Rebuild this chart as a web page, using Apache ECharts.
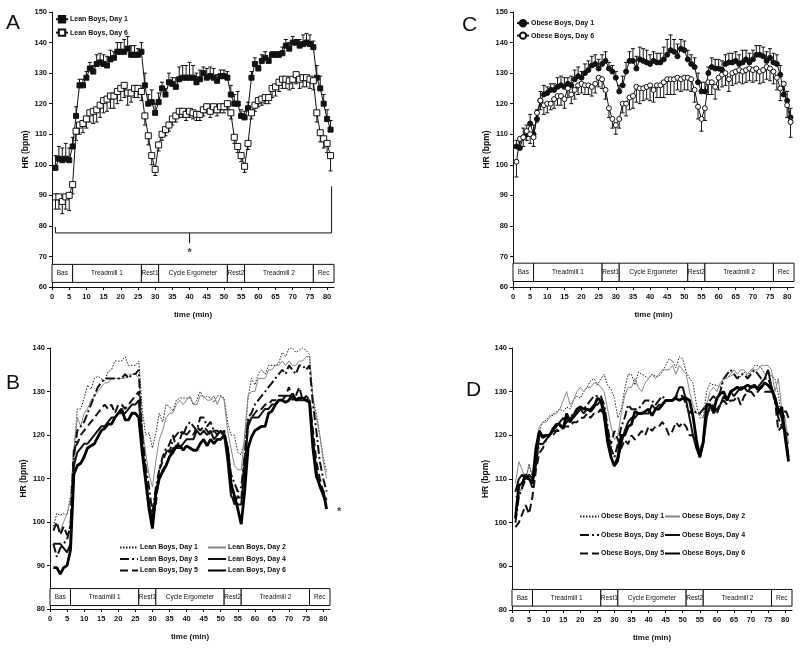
<!DOCTYPE html>
<html><head><meta charset="utf-8">
<script src="https://cdn.jsdelivr.net/npm/echarts@6/dist/echarts.min.js"></script>
<style>html,body{margin:0;padding:0;background:#fff}#c{width:800px;height:648px}</style>
</head><body><div id="c"></div>
<script>
// time (min)
const minutes = Array.from({length: 81}, (_, i) => i + 1);

// Panel A: lean boys, mean ± SE
const leanDay1 = [99,102,101.5,102,101.5,106,116,126,126,128.5,
131.5,130.5,133,133.5,133,132.5,134.5,135,137,137,
137,138,136,136,136,137,126,120,120.5,117,
120.5,125,123,127,126.5,125.5,128,128.5,128.5,128.5,
128.5,127,128,130,128.5,129,128.5,127.5,129,129,
128.5,123,120,120,116,115.5,118.5,128.5,133,131.5,
134,135,134,136,136,136,136.5,139,138,140,
140,139,139.5,140,139.5,138.5,128.5,125,120,115,111.5];
const leanDay6 = [89.5,89.5,88,89.5,90,93.5,111,113,113.5,115,
117,117.5,118,119.5,121,121.5,122.5,122.5,124,125,
126,123.5,123.5,125,125,124,116,109.5,103,98.5,
106.5,110,111.5,113,115,116,117.5,117.5,116.5,117.5,
117,116.5,116.5,118,119,117.5,119,118,119,119,
120,117,109,106,103,99.5,107,117,119.5,121,
121.5,122,122,125,125.5,127,128,128,127.5,128,
129.5,128,128.5,128.5,128,127.5,117,110.5,108.5,107,103];
const leanDay1Err = [4,4,4,5,4,3,3,2,2,2, 2,2,3,3,3,3,3,2,3,3, 4,4,3,3,2,3,4,3,4,3, 3,2,2,3,2,3,4,4,4,5,
4,3,3,2,3,3,3,2,2,2, 2,3,3,4,2,2,2,2,2,1, 2,2,1,1,1,1,2,2,2,2, 1,2,3,3,3,2,4,4,3,3,3];
const leanDay6Err = [4,4,4,4,5,3,3,3,3,3, 3,4,4,4,4,4,4,4,4,4, 4,4,3,3,3,3,3,3,3,2, 2,2,2,2,2,2,2,2,2,2,
2,2,2,2,2,2,2,2,2,2, 2,2,2,2,2,2,2,2,2,2, 2,2,2,3,3,3,3,3,3,3, 3,3,3,3,3,3,3,3,3,3,5];

// Panel C: obese boys, mean ± SE
const obeseDay1 = [106,105.5,109,110,113.5,110,115,121,123,123.5,
124.5,124.5,125.5,126,125.5,126.5,126,128,129,128.5,
130,131,132.5,133,131.5,133,134,131.5,130.5,128.5,
124,126,130.5,134,134,131.5,134.5,134,133.5,133,
134,133.5,133.5,134.5,136,137.5,137,135.5,138,137.5,
134.5,133,132,127,124,124,130,132,131.5,131.5,
131,133,133.5,133.5,134,133,133.5,134.5,133.5,134.5,
136,136,135.5,134,135,133.5,133,129.5,123,121,115.5];
const obeseDay6 = [101,108.5,109,111,110,109,117,121,119.5,120,
120,121.5,122.5,122.5,121.5,125,123,124.5,126,126.5,
126,126,125.5,126.5,128.5,128,124.5,118.5,115,113,
115,120,120,122,122.5,125.5,125,125,125.5,126,
124.5,126,126,127,128,128,128,128.5,128,128.5,
128.5,128,124.5,119,115,118.5,127,127,125.5,128.5,
129.5,130,128,130,130.5,131,130.5,131,131.5,131,
131.5,130.5,131,132,131.5,130.5,128.5,125,126.5,119.5,114];
const obeseDay1Err = [2,2,3,3,3,3,3,3,3,2, 2,2,3,3,3,2,3,3,3,2, 3,3,3,3,3,3,3,2,2,2, 2,3,3,3,4,4,4,4,4,3,
3,3,3,4,5,5,4,4,3,3, 3,3,3,3,3,3,2,3,3,3, 3,3,3,3,3,3,4,3,3,3, 3,3,3,3,3,3,3,3,3,3,3];
const obeseDay6Err = [5,3,3,3,3,3,3,3,3,3, 2,3,3,3,3,3,3,3,3,3, 3,3,3,3,3,3,3,3,3,3, 3,3,4,4,4,5,5,4,4,5,
4,4,4,5,5,5,5,4,4,4, 4,4,4,4,4,4,4,4,4,4, 4,4,4,4,4,4,4,4,4,4, 4,4,4,4,4,4,4,4,4,4,5];

// Panel B: lean boys, days 2-5 (days 1 and 6 = panel A means)
const leanDay2 = [100,99,98,100,102,105,117,124,122,125,
126,128,129,130,131,132,132,133,133,133,
133,133,134,134,134,133,122,116,111,108,
114,119,121,124,125,125,127,128,127,128,
129,127,127,129,129,128,128,129,127,129,
128,121,117,113,112,112,120,129,130,130,
133,133,133,135,135,136,136,137,136,137,
136,136,137,137,138,138,128,124,120,114,110];
const leanDay3 = [95,92,94,95,96,99,115,121,122,123,
125,127,129,131,132,133,133,133,133,133,
133,134,133,134,134,135,120,113,108,102,
108,112,115,117,116,119,120,121,120,122,
123,122,121,124,124,122,123,121,120,121,
121,117,111,109,107,108,115,124,125,127,
128,129,130,131,132,133,134,135,134,136,
135,134,136,136,135,136,127,121,114,110,107];
const leanDay4 = [95,95,95,94,93,95,113,116,117,118,
118,119,120,121,122,122,123,124,124,125,
125,125,126,127,127,128,118,110,104,100,
106,110,112,113,115,117,117,117,118,119,
119,119,121,120,121,120,121,119,120,121,
120,114,106,105,104,104,112,122,124,124,
124,125,126,126,127,127,128,128,129,129,
129,128,128,128,128,128,119,112,108,106,104];
const leanDay5 = [98,100,97,99,97,99,117,118,120,121,
122,123,124,125,126,127,126,127,125,127,
127,126,127,128,129,130,120,111,104,101,
104,112,114,116,118,120,117,119,121,120,
121,120,122,121,122,121,120,121,121,120,
121,116,107,104,106,105,115,123,124,125,
126,126,127,127,128,128,129,129,129,131,
128,129,131,128,129,128,121,114,110,107,105];

// Panel D: obese boys, days 2-5 (days 1 and 6 = panel C means)
const obeseDay2 = [109,114,112,110,113,111,116,122,123,123,
124,125,125,126,128,130,127,128,130,131,
130,131,131,132,132,131,130,126,122,119,
120,125,129,131,131,133,131,130,132,133,
134,133,134,135,135,135,136,134,136,135,
134,130,127,125,125,124,127,130,131,130,
132,133,133,134,135,134,135,135,134,135,
135,135,136,136,136,135,130,133,126,124,118];
const obeseDay3 = [100,106,108,110,110,108,114,118,118,119,
120,121,121,122,122,123,124,125,125,126,
126,127,128,129,129,129,127,122,117,115,
118,122,124,127,126,126,126,127,128,128,
128,127,128,129,128,128,128,129,129,129,
127,125,126,125,125,126,127,128,129,128,
130,133,134,135,134,133,134,134,133,134,
135,134,133,133,133,131,128,124,122,126,124];
const obeseDay4 = [107,110,111,110,111,110,113,120,120,120,
120,121,122,123,124,123,124,124,125,126,
125,126,126,127,127,128,126,121,115,113,
114,118,121,123,124,124,125,125,125,125,
127,126,127,127,128,128,128,129,131,131,
128,124,120,117,115,118,124,127,125,126,
127,129,128,130,129,130,131,131,130,131,
131,131,132,133,135,131,129,126,124,121,115];
const obeseDay5 = [99,100,102,104,102,106,112,116,117,119,
120,120,121,121,122,122,122,123,123,124,
124,125,124,125,125,126,124,120,118,121,
119,117,119,118,120,119,120,121,120,122,
121,122,122,123,122,120,121,123,122,123,
122,120,120,118,116,119,125,126,127,125,
127,128,127,128,128,129,127,129,130,130,
129,130,131,130,130,130,128,121,122,121,120];

// protocol phases
const phaseNames = ['Bas','Treadmill 1','Rest1','Cycle Ergometer','Rest2','Treadmill 2','Rec'];
const phaseStart = [0,6,26,31,51,56,76];
const phaseEnd = [6,26,31,51,56,76,82];

// tick settings
const xTicks = {min: 0, max: 82, interval: 5};
const yTicksTop = {min: 60, max: 150, interval: 10};
const yTicksBottom = {min: 80, max: 140, interval: 10};

const FONT = '"Liberation Sans",Arial,sans-serif';
const INK = '#111';

function pairs(vals){ return minutes.map((t,i)=>[t, vals[i]]); }
function triples(vals, errs){ return minutes.map((t,i)=>[t, vals[i], errs[i]]); }

function errRender(dir){
  return function(params, api){
    const x = api.value(0), y = api.value(1), e = api.value(2);
    const p0 = api.coord([x, y]);
    const p1 = api.coord([x, y + dir*e]);
    return {type:'group', children:[
      {type:'line', shape:{x1:p0[0], y1:p0[1], x2:p1[0], y2:p1[1]}, style:{stroke:INK, lineWidth:1}},
      {type:'line', shape:{x1:p1[0]-2, y1:p1[1], x2:p1[0]+2, y2:p1[1]}, style:{stroke:INK, lineWidth:1}}
    ]};
  };
}

function phaseArea(y0, y1){
  return {
    silent: true,
    itemStyle: {color:'#fff', borderColor: INK, borderWidth: 1},
    label: {show:true, position:'inside', color: INK, fontSize: 6.5, fontFamily: FONT, formatter: p => p.name},
    data: phaseNames.map((n,i)=>[{name:n, xAxis: phaseStart[i], yAxis: y0},{xAxis: phaseEnd[i], yAxis: y1}])
  };
}

const grids = [
  {left: 52, top: 12, width: 282, height: 275},
  {left: 513, top: 12, width: 281, height: 275},
  {left: 50, top: 348, width: 280, height: 261},
  {left: 512, top: 348, width: 280, height: 262}
];

const smallText = {color: INK, fontSize: 7.5, fontWeight:'bold', fontFamily: FONT};

function xAxisFor(gi){
  return {gridIndex: gi, type:'value', min: xTicks.min, max: xTicks.max, interval: xTicks.interval,
    name:'time (min)', nameLocation:'middle', nameGap: 24,
    nameTextStyle: Object.assign({}, smallText, {fontSize: 8}),
    axisLine:{show:true, onZero:false, lineStyle:{color: INK, width: 1}},
    axisTick:{show:true, length: 3, lineStyle:{color: INK}},
    axisLabel:Object.assign({margin: 6, showMaxLabel: false}, smallText),
    splitLine:{show:false}};
}
function yAxisFor(gi, t){
  return {gridIndex: gi, type:'value', min: t.min, max: t.max, interval: t.interval,
    name:'HR (bpm)', nameLocation:'middle', nameGap: 11,
    nameTextStyle: Object.assign({}, smallText, {fontSize: 8.5}),
    axisLine:{show:true, onZero:false, lineStyle:{color: INK, width: 1}},
    axisTick:{show:true, length: 3, lineStyle:{color: INK}},
    axisLabel:Object.assign({margin: 5}, smallText),
    splitLine:{show:false}};
}

function meanSeries(name, gi, vals, symbol, filled, size, extra){
  return Object.assign({
    name, type:'line', xAxisIndex: gi, yAxisIndex: gi, data: pairs(vals),
    symbol, symbolSize: size, showSymbol: true, z: 3,
    lineStyle:{color: INK, width: 1},
    itemStyle: filled ? {color: INK, borderColor: INK, borderWidth: 1} : {color:'#fff', borderColor: INK, borderWidth: 1}
  }, extra || {});
}
function errSeries(gi, vals, errs, dir){
  return {type:'custom', xAxisIndex: gi, yAxisIndex: gi, z: 2, silent: true,
    renderItem: errRender(dir), data: triples(vals, errs)};
}

const dayStyles = [
  {type:[1.5,1.5], width: 1, color:'#222'},
  {type:'solid', width: 1, color:'#888'},
  {type:[9,3,2,3], width: 2, color: INK},
  {type:'solid', width: 2, color: INK},
  {type:[8,4], width: 2, color: INK},
  {type:'solid', width: 2.8, color:'#000'}
];
function daySeries(name, gi, vals, k){
  return {name, type:'line', xAxisIndex: gi, yAxisIndex: gi, data: pairs(vals), symbol:'none', z: 3 + (k===5?1:0),
    lineStyle: dayStyles[k], itemStyle:{color: dayStyles[k].color}};
}

const leanDays = [leanDay1, leanDay2, leanDay3, leanDay4, leanDay5, leanDay6];
const obeseDays = [obeseDay1, obeseDay2, obeseDay3, obeseDay4, obeseDay5, obeseDay6];

const series = [
  errSeries(0, leanDay1, leanDay1Err, 1),
  errSeries(0, leanDay6, leanDay6Err, -1),
  meanSeries('A|Lean Boys, Day 1', 0, leanDay1, 'rect', true, 5, {markArea: phaseArea(61.5, 67.4)}),
  meanSeries('A|Lean Boys, Day 6', 0, leanDay6, 'rect', false, 6),
  {type:'line', xAxisIndex:0, yAxisIndex:0, symbol:'none', silent:true, lineStyle:{color:INK, width:1},
   data:[[1,79.6],[1,77.7],[81.3,77.7],[81.3,93]]},
  {type:'line', xAxisIndex:0, yAxisIndex:0, symbol:'none', silent:true, lineStyle:{color:INK, width:1},
   data:[[40,77.7],[40,74.3]]},
  {type:'scatter', xAxisIndex:0, yAxisIndex:0, symbolSize:0, silent:true,
   label:{show:true, position:'inside', formatter:'*', fontSize:11, fontWeight:'bold', color:INK}, data:[[40,71.3]]},

  errSeries(1, obeseDay1, obeseDay1Err, 1),
  errSeries(1, obeseDay6, obeseDay6Err, -1),
  meanSeries('C|Obese Boys, Day 1', 1, obeseDay1, 'circle', true, 5, {markArea: phaseArea(61.8, 67.8)}),
  meanSeries('C|Obese Boys, Day 6', 1, obeseDay6, 'circle', false, 5),
];
leanDays.forEach((d,k)=>{
  const s = daySeries('B|Lean Boys, Day ' + (k+1), 2, d, k);
  if (k===0) s.markArea = phaseArea(80.8, 84.7);
  series.push(s);
});
series.push({type:'scatter', xAxisIndex:2, yAxisIndex:2, symbolSize:0, silent:true, clip:false,
   label:{show:true, position:'inside', formatter:'*', fontSize:11, fontWeight:'bold', color:INK}, data:[[84.7,102.3]]});
obeseDays.forEach((d,k)=>{
  const s = daySeries('D|Obese Boys, Day ' + (k+1), 3, d, k);
  if (k===0) s.markArea = phaseArea(80.9, 84.7);
  series.push(s);
});

const legendBase = {orient:'vertical', padding:0, itemHeight: 8, selectedMode:false,
  textStyle:{color: INK, fontSize: 7, fontWeight:'bold', fontFamily: FONT, padding:[0,0,0,-3]},
  formatter: n => n.split('|')[1]};
const lineOnly = {itemStyle:{color:'rgba(0,0,0,0)', borderColor:'rgba(0,0,0,0)', borderWidth:0}};

const option = {
  animation: false,
  backgroundColor:'#fff',
  title: [
    {text:'A', left: 6, top: 13, padding:0, textStyle:{fontSize: 21, fontWeight:'normal', color: INK, fontFamily: FONT}},
    {text:'C', left: 462, top: 15, padding:0, textStyle:{fontSize: 21, fontWeight:'normal', color: INK, fontFamily: FONT}},
    {text:'B', left: 6, top: 373, padding:0, textStyle:{fontSize: 21, fontWeight:'normal', color: INK, fontFamily: FONT}},
    {text:'D', left: 466, top: 380, padding:0, textStyle:{fontSize: 21, fontWeight:'normal', color: INK, fontFamily: FONT}}
  ],
  grid: grids,
  xAxis: [0,1,2,3].map(xAxisFor),
  yAxis: [yAxisFor(0,yTicksTop), yAxisFor(1,yTicksTop), yAxisFor(2,yTicksBottom), yAxisFor(3,yTicksBottom)],
  legend: [
    Object.assign({}, legendBase, {left: 55, top: 15, itemWidth: 12, itemGap: 5, data:['A|Lean Boys, Day 1','A|Lean Boys, Day 6']}),
    Object.assign({}, legendBase, {left: 516, top: 19, itemWidth: 12, itemGap: 4, data:['C|Obese Boys, Day 1','C|Obese Boys, Day 6']}),
    Object.assign({}, legendBase, lineOnly, {left: 119, top: 544, itemWidth: 18, itemGap: 4.5, data:['B|Lean Boys, Day 1','B|Lean Boys, Day 3','B|Lean Boys, Day 5']}),
    Object.assign({}, legendBase, lineOnly, {left: 207, top: 544, itemWidth: 18, itemGap: 4.5, data:['B|Lean Boys, Day 2','B|Lean Boys, Day 4','B|Lean Boys, Day 6']}),
    Object.assign({}, legendBase, lineOnly, {left: 579, top: 513, itemWidth: 19, itemGap: 11.5, data:['D|Obese Boys, Day 1','D|Obese Boys, Day 3','D|Obese Boys, Day 5']}),
    Object.assign({}, legendBase, lineOnly, {left: 664, top: 513, itemWidth: 15, itemGap: 11.5, data:['D|Obese Boys, Day 2','D|Obese Boys, Day 4','D|Obese Boys, Day 6']})
  ],
  series
};
const chart = echarts.init(document.getElementById('c'), null, {renderer:'canvas'});
chart.setOption(option);
</script>
</body></html>
